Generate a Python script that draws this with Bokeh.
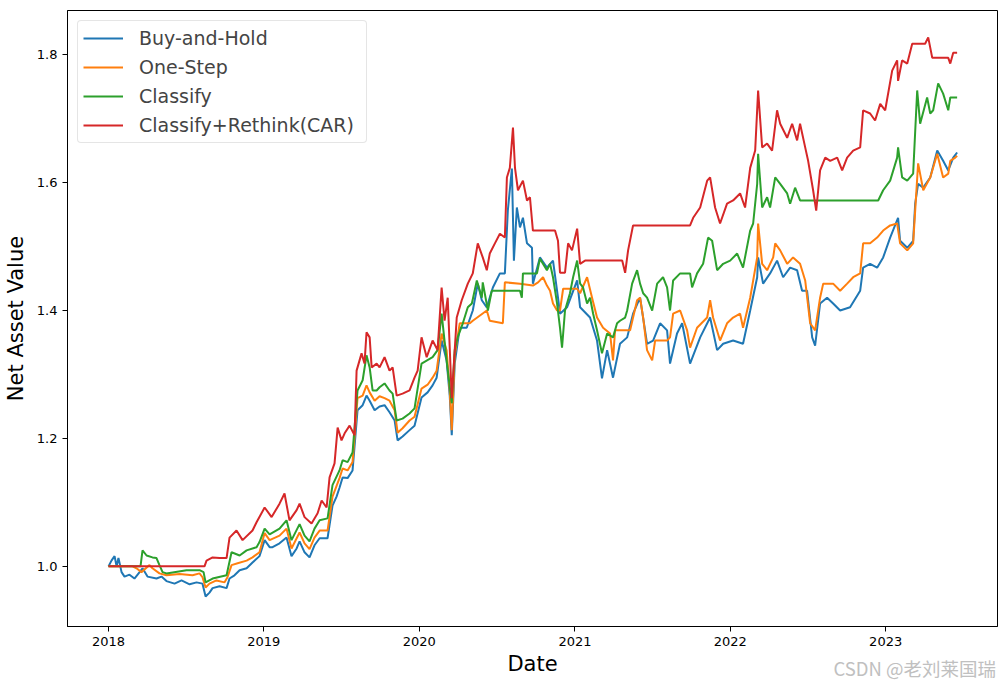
from datetime import datetime, timedelta
from bokeh.plotting import figure
from bokeh.layouts import column
from bokeh.models import (FixedTicker, DatetimeTickFormatter, PrintfTickFormatter, Legend,
                          LegendItem, Label, Range1d)
from bokeh.embed import file_html
from bokeh.resources import INLINE

# ---------------- data (decimal year, net asset value) ----------------
bh_t = [2018.000, 2018.019, 2018.039, 2018.052, 2018.064, 2018.084, 2018.103, 2018.135, 2018.167, 2018.200,
        2018.219, 2018.251, 2018.309, 2018.341, 2018.373, 2018.425, 2018.470, 2018.522, 2018.567, 2018.605,
        2018.625, 2018.650, 2018.670, 2018.715, 2018.760, 2018.779, 2018.811, 2018.844, 2018.889, 2018.927,
        2018.972, 2019.005, 2019.037, 2019.056, 2019.101, 2019.146, 2019.178, 2019.211, 2019.230, 2019.262,
        2019.294, 2019.326, 2019.359, 2019.410, 2019.442, 2019.468, 2019.487, 2019.507, 2019.539, 2019.571,
        2019.603, 2019.636, 2019.661, 2019.681, 2019.713, 2019.745, 2019.777, 2019.809, 2019.842, 2019.861,
        2019.893, 2019.938, 2019.970, 2020.015, 2020.054, 2020.086, 2020.112, 2020.144, 2020.176, 2020.196,
        2020.209, 2020.228, 2020.260, 2020.305, 2020.344, 2020.376, 2020.402, 2020.434, 2020.473, 2020.518,
        2020.550, 2020.569, 2020.595, 2020.608, 2020.627, 2020.647, 2020.666, 2020.692, 2020.724, 2020.730,
        2020.775, 2020.820, 2020.859, 2020.891, 2020.904, 2020.949, 2021.014, 2021.033, 2021.097, 2021.142,
        2021.174, 2021.207, 2021.245, 2021.290, 2021.336, 2021.374, 2021.419, 2021.464, 2021.503, 2021.548,
        2021.593, 2021.612, 2021.657, 2021.690, 2021.741, 2021.806, 2021.870, 2021.915, 2021.954, 2022.018,
        2022.082, 2022.128, 2022.173, 2022.179, 2022.211, 2022.256, 2022.301, 2022.340, 2022.385, 2022.430,
        2022.462, 2022.494, 2022.527, 2022.546, 2022.578, 2022.623, 2022.662, 2022.707, 2022.771, 2022.836,
        2022.855, 2022.900, 2022.945, 2022.984, 2023.029, 2023.080, 2023.093, 2023.139, 2023.177, 2023.190,
        2023.209, 2023.242, 2023.287, 2023.332, 2023.370, 2023.403, 2023.435, 2023.460]
bh_v = [1.000, 1.009, 1.016, 1.000, 1.013, 0.991, 0.984, 0.987, 0.981, 0.991,
        0.997, 0.984, 0.981, 0.984, 0.977, 0.973, 0.978, 0.972, 0.975, 0.973,
        0.953, 0.959, 0.966, 0.969, 0.966, 0.981, 0.986, 0.994, 0.997, 1.006,
        1.016, 1.041, 1.030, 1.030, 1.036, 1.045, 1.016, 1.028, 1.039, 1.022,
        1.014, 1.033, 1.044, 1.044, 1.095, 1.109, 1.123, 1.139, 1.138, 1.150,
        1.244, 1.252, 1.267, 1.259, 1.244, 1.250, 1.252, 1.241, 1.228, 1.197,
        1.203, 1.213, 1.220, 1.264, 1.272, 1.283, 1.295, 1.353, 1.322, 1.267,
        1.205, 1.317, 1.373, 1.373, 1.400, 1.442, 1.416, 1.405, 1.436, 1.458,
        1.458, 1.556, 1.622, 1.478, 1.561, 1.530, 1.545, 1.505, 1.498, 1.442,
        1.483, 1.467, 1.478, 1.420, 1.395, 1.405, 1.447, 1.405, 1.389, 1.353,
        1.294, 1.338, 1.295, 1.348, 1.358, 1.395, 1.420, 1.348, 1.353, 1.380,
        1.369, 1.317, 1.364, 1.380, 1.317, 1.358, 1.389, 1.338, 1.348, 1.353,
        1.348, 1.400, 1.452, 1.483, 1.442, 1.458, 1.478, 1.452, 1.467, 1.463,
        1.431, 1.431, 1.358, 1.345, 1.411, 1.420, 1.411, 1.400, 1.405, 1.431,
        1.467, 1.473, 1.467, 1.483, 1.514, 1.545, 1.509, 1.498, 1.509, 1.567,
        1.598, 1.592, 1.608, 1.650, 1.634, 1.619, 1.639, 1.647]

os_t = [2018.000, 2018.155, 2018.180, 2018.212, 2018.264, 2018.283, 2018.328, 2018.373, 2018.457, 2018.541,
        2018.586, 2018.605, 2018.625, 2018.650, 2018.695, 2018.747, 2018.766, 2018.792, 2018.831, 2018.889,
        2018.927, 2018.972, 2019.005, 2019.037, 2019.101, 2019.146, 2019.178, 2019.230, 2019.262, 2019.294,
        2019.326, 2019.359, 2019.410, 2019.442, 2019.487, 2019.507, 2019.539, 2019.571, 2019.603, 2019.636,
        2019.661, 2019.681, 2019.713, 2019.745, 2019.777, 2019.809, 2019.842, 2019.861, 2019.893, 2019.938,
        2019.970, 2020.015, 2020.054, 2020.086, 2020.112, 2020.144, 2020.176, 2020.196, 2020.209, 2020.228,
        2020.260, 2020.325, 2020.344, 2020.434, 2020.453, 2020.537, 2020.550, 2020.647, 2020.730, 2020.763,
        2020.795, 2020.820, 2020.840, 2020.859, 2020.885, 2020.904, 2020.924, 2021.014, 2021.033, 2021.078,
        2021.110, 2021.142, 2021.181, 2021.226, 2021.245, 2021.258, 2021.355, 2021.400, 2021.419, 2021.439,
        2021.464, 2021.497, 2021.516, 2021.593, 2021.612, 2021.632, 2021.677, 2021.722, 2021.741, 2021.786,
        2021.851, 2021.870, 2021.889, 2021.934, 2021.979, 2022.018, 2022.063, 2022.082, 2022.128, 2022.173,
        2022.179, 2022.205, 2022.237, 2022.276, 2022.289, 2022.321, 2022.366, 2022.404, 2022.449, 2022.482,
        2022.514, 2022.546, 2022.578, 2022.598, 2022.662, 2022.707, 2022.752, 2022.791, 2022.836, 2022.855,
        2022.900, 2022.945, 2022.984, 2023.029, 2023.074, 2023.093, 2023.139, 2023.177, 2023.209, 2023.242,
        2023.287, 2023.332, 2023.370, 2023.403, 2023.416, 2023.448, 2023.460]
os_v = [1.000, 1.000, 0.997, 0.991, 1.002, 0.997, 0.989, 0.986, 0.988, 0.986,
        0.989, 0.983, 0.967, 0.973, 0.978, 0.975, 0.983, 1.002, 1.005, 1.009,
        1.014, 1.022, 1.052, 1.041, 1.048, 1.059, 1.028, 1.053, 1.036, 1.027,
        1.045, 1.056, 1.056, 1.109, 1.138, 1.153, 1.150, 1.163, 1.263, 1.267,
        1.283, 1.272, 1.259, 1.266, 1.263, 1.259, 1.244, 1.209, 1.216, 1.228,
        1.234, 1.278, 1.284, 1.295, 1.306, 1.364, 1.338, 1.275, 1.213, 1.330,
        1.380, 1.380, 1.384, 1.400, 1.384, 1.380, 1.444, 1.442, 1.439, 1.444,
        1.452, 1.439, 1.431, 1.411, 1.400, 1.400, 1.434, 1.434, 1.427, 1.452,
        1.420, 1.389, 1.373, 1.364, 1.322, 1.369, 1.369, 1.416, 1.420, 1.389,
        1.338, 1.322, 1.353, 1.353, 1.358, 1.395, 1.400, 1.369, 1.342, 1.373,
        1.389, 1.416, 1.389, 1.353, 1.380, 1.389, 1.395, 1.373, 1.420, 1.483,
        1.536, 1.473, 1.463, 1.483, 1.505, 1.494, 1.473, 1.483, 1.473, 1.447,
        1.380, 1.369, 1.420, 1.442, 1.442, 1.431, 1.442, 1.452, 1.458, 1.505,
        1.505, 1.514, 1.525, 1.533, 1.536, 1.505, 1.494, 1.505, 1.630, 1.588,
        1.608, 1.645, 1.608, 1.614, 1.634, 1.639, 1.642]

cl_t = [2018.000, 2018.206, 2018.219, 2018.245, 2018.283, 2018.309, 2018.328, 2018.348, 2018.373, 2018.502,
        2018.586, 2018.612, 2018.625, 2018.670, 2018.760, 2018.792, 2018.844, 2018.889, 2018.953, 2018.972,
        2019.005, 2019.037, 2019.101, 2019.146, 2019.178, 2019.230, 2019.262, 2019.294, 2019.326, 2019.359,
        2019.410, 2019.442, 2019.487, 2019.507, 2019.539, 2019.571, 2019.603, 2019.636, 2019.661, 2019.681,
        2019.700, 2019.726, 2019.745, 2019.777, 2019.809, 2019.829, 2019.855, 2019.893, 2019.938, 2019.970,
        2020.015, 2020.086, 2020.118, 2020.144, 2020.176, 2020.209, 2020.228, 2020.247, 2020.280, 2020.312,
        2020.338, 2020.370, 2020.402, 2020.408, 2020.441, 2020.466, 2020.647, 2020.659, 2020.666, 2020.756,
        2020.775, 2020.820, 2020.840, 2020.859, 2020.885, 2020.904, 2020.917, 2020.936, 2020.968, 2020.988,
        2021.014, 2021.033, 2021.052, 2021.078, 2021.097, 2021.117, 2021.142, 2021.174, 2021.207, 2021.245,
        2021.271, 2021.290, 2021.323, 2021.336, 2021.368, 2021.400, 2021.419, 2021.439, 2021.464, 2021.497,
        2021.529, 2021.567, 2021.593, 2021.612, 2021.632, 2021.677, 2021.741, 2021.754, 2021.786, 2021.825,
        2021.857, 2021.883, 2021.915, 2021.954, 2021.999, 2022.044, 2022.082, 2022.128, 2022.147, 2022.173,
        2022.179, 2022.205, 2022.237, 2022.256, 2022.289, 2022.321, 2022.366, 2022.385, 2022.417, 2022.449,
        2022.952, 2022.984, 2023.029, 2023.074, 2023.080, 2023.106, 2023.139, 2023.177, 2023.203, 2023.222,
        2023.267, 2023.287, 2023.306, 2023.338, 2023.370, 2023.403, 2023.416, 2023.460]
cl_v = [1.000, 1.000, 1.025, 1.017, 1.014, 1.013, 1.002, 0.991, 0.989, 0.994,
        0.994, 0.991, 0.975, 0.981, 0.986, 1.022, 1.017, 1.025, 1.030, 1.038,
        1.059, 1.050, 1.059, 1.072, 1.041, 1.066, 1.048, 1.039, 1.059, 1.072,
        1.075, 1.127, 1.150, 1.166, 1.163, 1.178, 1.275, 1.291, 1.330, 1.311,
        1.275, 1.275, 1.280, 1.286, 1.275, 1.270, 1.228, 1.231, 1.239, 1.247,
        1.317, 1.327, 1.338, 1.395, 1.322, 1.255, 1.338, 1.358, 1.380, 1.405,
        1.411, 1.447, 1.420, 1.444, 1.400, 1.431, 1.431, 1.420, 1.458, 1.458,
        1.481, 1.463, 1.473, 1.452, 1.411, 1.373, 1.342, 1.400, 1.427, 1.452,
        1.478, 1.442, 1.436, 1.411, 1.420, 1.395, 1.369, 1.333, 1.364, 1.358,
        1.380, 1.384, 1.389, 1.400, 1.442, 1.463, 1.442, 1.427, 1.420, 1.400,
        1.442, 1.452, 1.436, 1.400, 1.447, 1.458, 1.458, 1.436, 1.458, 1.473,
        1.514, 1.509, 1.463, 1.473, 1.478, 1.489, 1.467, 1.525, 1.536, 1.598,
        1.645, 1.561, 1.577, 1.561, 1.608, 1.598, 1.583, 1.567, 1.592, 1.572,
        1.572, 1.588, 1.603, 1.639, 1.655, 1.608, 1.603, 1.614, 1.744, 1.692,
        1.733, 1.708, 1.713, 1.755, 1.739, 1.713, 1.733, 1.733]

car_t = [2018.000, 2018.618, 2018.631, 2018.670, 2018.715, 2018.760, 2018.779, 2018.824, 2018.863, 2018.927,
         2018.953, 2019.005, 2019.050, 2019.101, 2019.133, 2019.165, 2019.211, 2019.230, 2019.262, 2019.307,
         2019.346, 2019.372, 2019.404, 2019.423, 2019.455, 2019.475, 2019.500, 2019.520, 2019.552, 2019.584,
         2019.597, 2019.629, 2019.648, 2019.661, 2019.681, 2019.694, 2019.726, 2019.745, 2019.777, 2019.809,
         2019.829, 2019.855, 2019.893, 2019.938, 2019.970, 2019.990, 2020.015, 2020.048, 2020.086, 2020.118,
         2020.144, 2020.163, 2020.183, 2020.209, 2020.241, 2020.273, 2020.312, 2020.344, 2020.376, 2020.408,
         2020.434, 2020.453, 2020.486, 2020.518, 2020.550, 2020.563, 2020.582, 2020.602, 2020.615, 2020.634,
         2020.666, 2020.692, 2020.711, 2020.730, 2020.872, 2020.891, 2020.904, 2020.936, 2020.956, 2020.981,
         2021.014, 2021.033, 2021.065, 2021.304, 2021.323, 2021.342, 2021.374, 2021.741, 2021.761, 2021.806,
         2021.851, 2021.870, 2021.902, 2021.934, 2021.979, 2022.018, 2022.063, 2022.095, 2022.128, 2022.160,
         2022.179, 2022.205, 2022.237, 2022.269, 2022.301, 2022.321, 2022.366, 2022.398, 2022.430, 2022.449,
         2022.482, 2022.501, 2022.533, 2022.553, 2022.578, 2022.611, 2022.643, 2022.688, 2022.720, 2022.752,
         2022.791, 2022.836, 2022.855, 2022.900, 2022.932, 2022.965, 2022.997, 2023.042, 2023.074, 2023.080,
         2023.106, 2023.139, 2023.171, 2023.254, 2023.274, 2023.300, 2023.403, 2023.416, 2023.435, 2023.460]
car_v = [1.000, 1.000, 1.009, 1.014, 1.013, 1.013, 1.045, 1.056, 1.041, 1.056,
         1.069, 1.092, 1.077, 1.098, 1.114, 1.072, 1.088, 1.098, 1.077, 1.067,
         1.083, 1.103, 1.092, 1.139, 1.161, 1.217, 1.197, 1.208, 1.220, 1.205,
         1.306, 1.333, 1.317, 1.366, 1.358, 1.311, 1.317, 1.311, 1.327, 1.306,
         1.311, 1.267, 1.270, 1.275, 1.295, 1.306, 1.358, 1.327, 1.353, 1.338,
         1.436, 1.384, 1.420, 1.263, 1.389, 1.416, 1.442, 1.458, 1.505, 1.483,
         1.463, 1.489, 1.505, 1.520, 1.514, 1.608, 1.623, 1.686, 1.623, 1.588,
         1.603, 1.572, 1.577, 1.525, 1.525, 1.509, 1.459, 1.459, 1.505, 1.494,
         1.528, 1.473, 1.478, 1.478, 1.459, 1.494, 1.533, 1.533, 1.545, 1.561,
         1.603, 1.608, 1.561, 1.536, 1.567, 1.572, 1.583, 1.561, 1.623, 1.650,
         1.744, 1.655, 1.661, 1.650, 1.713, 1.692, 1.670, 1.692, 1.666, 1.692,
         1.655, 1.634, 1.588, 1.556, 1.619, 1.639, 1.634, 1.639, 1.619, 1.639,
         1.650, 1.655, 1.713, 1.708, 1.697, 1.723, 1.713, 1.775, 1.791, 1.759,
         1.791, 1.786, 1.817, 1.817, 1.827, 1.795, 1.795, 1.786, 1.803, 1.803]

series_names = ["Buy-and-Hold", "One-Step", "Classify", "Classify+Rethink(CAR)"]
series_colors = ["#1f77b4", "#ff7f0e", "#2ca02c", "#d62728"]
year_ticks = [2018, 2019, 2020, 2021, 2022, 2023]
value_ticks = [1.0, 1.2, 1.4, 1.6, 1.8]
x_title = "Date"
y_title = "Net Asset Value"
watermark = "CSDN @老刘莱国瑞"


def to_dt(t):
    y = int(t)
    start = datetime(y, 1, 1)
    days = (datetime(y + 1, 1, 1) - start).days
    return start + timedelta(days=(t - y) * days)


def ms(d):
    return (d - datetime(1970, 1, 1)).total_seconds() * 1000.0


fig = figure(width=1007, height=652, x_axis_type="datetime", output_backend="svg",
             toolbar_location=None,
             x_range=Range1d(to_dt(2017.736), to_dt(2023.72)),
             y_range=Range1d(0.906, 1.869),
             min_border_left=67, min_border_right=10, min_border_top=10, min_border_bottom=26)

renderers = []
for t, v, c in zip([bh_t, os_t, cl_t, car_t], [bh_v, os_v, cl_v, car_v], series_colors):
    r = fig.line([to_dt(x) for x in t], v, line_color=c, line_width=2)
    renderers.append(r)

fig.xaxis.ticker = FixedTicker(ticks=[ms(datetime(y, 1, 1)) for y in year_ticks])
fig.xaxis.formatter = DatetimeTickFormatter(years="%Y", months="%Y", days="%Y", hours="%Y")
fig.yaxis.ticker = FixedTicker(ticks=value_ticks)
fig.yaxis.formatter = PrintfTickFormatter(format="%.1f")

fig.xgrid.visible = False
fig.ygrid.visible = False
fig.outline_line_color = "black"
fig.outline_line_width = 1
fig.outline_line_alpha = 1
fig.background_fill_color = "white"
fig.border_fill_color = "white"

for ax in (fig.xaxis, fig.yaxis):
    ax.axis_line_color = "black"
    ax.major_tick_line_color = "black"
    ax.minor_tick_line_color = None
    ax.major_tick_out = 5
    ax.major_tick_in = 0
    ax.major_label_text_font = "DejaVu Sans"
    ax.major_label_text_font_size = "13px"
    ax.major_label_text_color = "black"
    ax.axis_label_text_font = "DejaVu Sans"
    ax.axis_label_text_font_size = "21px"
    ax.axis_label_text_font_style = "normal"
    ax.axis_label_text_color = "black"
    ax.major_label_standoff = 5

fig.yaxis.axis_label = y_title
fig.yaxis.axis_label_standoff = 6

legend = Legend(items=[LegendItem(label=n, renderers=[r]) for n, r in zip(series_names, renderers)],
                location="top_left", margin=10, padding=5, spacing=5,
                label_text_font="DejaVu Sans", label_text_font_size="19px",
                label_height=24, glyph_height=24, glyph_width=40, label_standoff=16,
                label_width=222,
                border_line_color="#cccccc", border_line_width=1, border_radius=4,
                background_fill_alpha=0.8)
fig.add_layout(legend)

# strip below the chart holding the x-axis title and the watermark
# (the column aligns this strip's frame with the chart frame, pixels 67..997)
foot = figure(width=1007, height=33, output_backend="svg", toolbar_location=None,
              x_range=Range1d(67, 997), y_range=Range1d(0, 33),
              x_axis_location=None, y_axis_location=None,
              min_border=0, min_border_left=0, min_border_right=0,
              min_border_top=0, min_border_bottom=0)
foot.outline_line_color = None
foot.xgrid.visible = False
foot.ygrid.visible = False
foot.background_fill_color = "white"
foot.border_fill_color = "white"
foot.add_layout(Label(x=532, y=22, text=x_title, text_font="DejaVu Sans", text_font_size="21px",
                      text_color="black", anchor="center"))
foot.add_layout(Label(x=833, y=18, text=watermark, text_font="Noto Sans CJK SC",
                      text_font_size="18.5px", text_color="#c0c0c0", anchor="center_left"))

p = column(fig, foot, spacing=0)

open("out.html", "w").write(file_html(p, INLINE))
